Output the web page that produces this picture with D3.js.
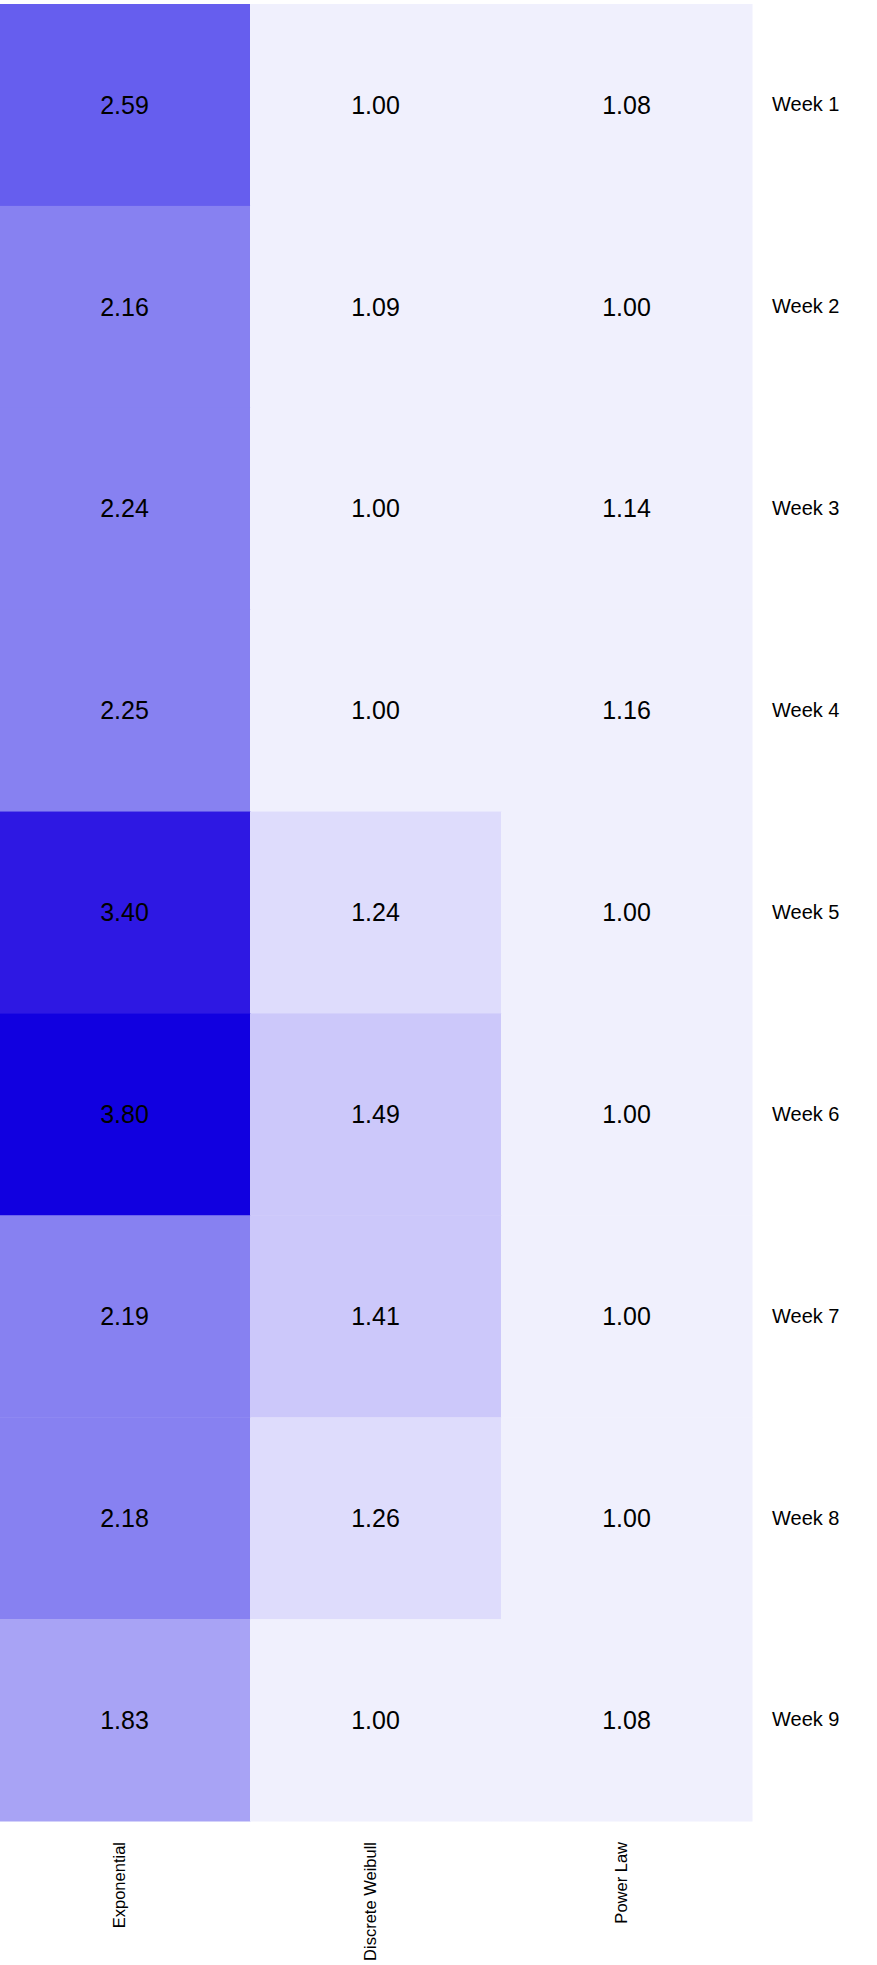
<!DOCTYPE html>
<html>
<head>
<meta charset="utf-8">
<script src="https://cdn.jsdelivr.net/npm/d3@7"></script>
<style>
  html, body { margin: 0; padding: 0; background: #fff; }
  svg { display: block; font-family: "Liberation Sans", Arial, sans-serif; }
</style>
</head>
<body>
<div id="chart"></div>
<script>
// models across, weeks down
var models = ["Exponential", "Discrete Weibull", "Power Law"];
var weeks = ["Week 1", "Week 2", "Week 3", "Week 4", "Week 5", "Week 6", "Week 7", "Week 8", "Week 9"];

var exponential = [2.59, 2.16, 2.24, 2.25, 3.40, 3.80, 2.19, 2.18, 1.83];
var weibull = [1.00, 1.09, 1.00, 1.00, 1.24, 1.49, 1.41, 1.26, 1.00];
var powerLaw = [1.08, 1.00, 1.14, 1.16, 1.00, 1.00, 1.00, 1.00, 1.08];

// binned palette
var colorSteps = [1.2, 1.35, 1.7, 2.0, 2.4, 3.0, 3.6];
var colorList = ["#f0f0fd", "#dedcfc", "#ccc8fa", "#a8a3f5", "#8781f1", "#665eee", "#2e18e3", "#1100e0"];

var series = [exponential, weibull, powerLaw];
var cells = [];
weeks.forEach(function(w, i) {
	models.forEach(function(m, j) {
		cells.push({ week: w, model: m, value: series[j][i] });
	});
});

var width = 877, height = 1965;

var svg = d3.select("#chart")
	.append("svg")
	.attr("width", width)
	.attr("height", height);

var x = d3.scaleBand().domain(models).range([-1, 752]);
var y = d3.scaleBand().domain(weeks).range([4, 1821]);
var color = d3.scaleThreshold().domain(colorSteps).range(colorList);

svg.selectAll(".cell")
	.data(cells)
	.enter().append("rect")
	.attr("class", "cell")
	.attr("x", function(d) { return x(d.model); })
	.attr("y", function(d) { return y(d.week); })
	.attr("width", x.bandwidth() + 0.5)
	.attr("height", y.bandwidth() + 0.5)
	.style("fill", function(d) { return color(d.value); });

svg.selectAll(".val")
	.data(cells)
	.enter().append("text")
	.attr("class", "val")
	.attr("x", function(d) { return x(d.model) + x.bandwidth() / 2; })
	.attr("y", function(d) { return y(d.week) + y.bandwidth() / 2; })
	.attr("dy", "0.35em")
	.attr("text-anchor", "middle")
	.style("font-size", "25px")
	.style("fill", "#000")
	.text(function(d) { return d.value.toFixed(2); });

// week labels on the right
var yAxis = d3.axisRight(y).tickSize(0).tickPadding(20);
var ya = svg.append("g")
	.attr("transform", "translate(752,0)")
	.call(yAxis);
ya.select(".domain").remove();
ya.selectAll("text")
	.style("font-size", "20px")
	.style("font-family", "Liberation Sans, Arial, sans-serif")
	.attr("fill", "#000");

// model labels, rotated
var xAxis = d3.axisBottom(x).tickSize(0).tickPadding(0);
var xa = svg.append("g")
	.attr("transform", "translate(0,1821)")
	.call(xAxis);
xa.select(".domain").remove();
xa.selectAll("text")
	.attr("transform", "translate(0,21) rotate(-90)")
	.attr("x", 0)
	.attr("y", 0)
	.attr("dy", "0")
	.attr("text-anchor", "end")
	.style("font-size", "16.5px")
	.style("font-family", "Liberation Sans, Arial, sans-serif")
	.attr("fill", "#000");
</script>
</body>
</html>
